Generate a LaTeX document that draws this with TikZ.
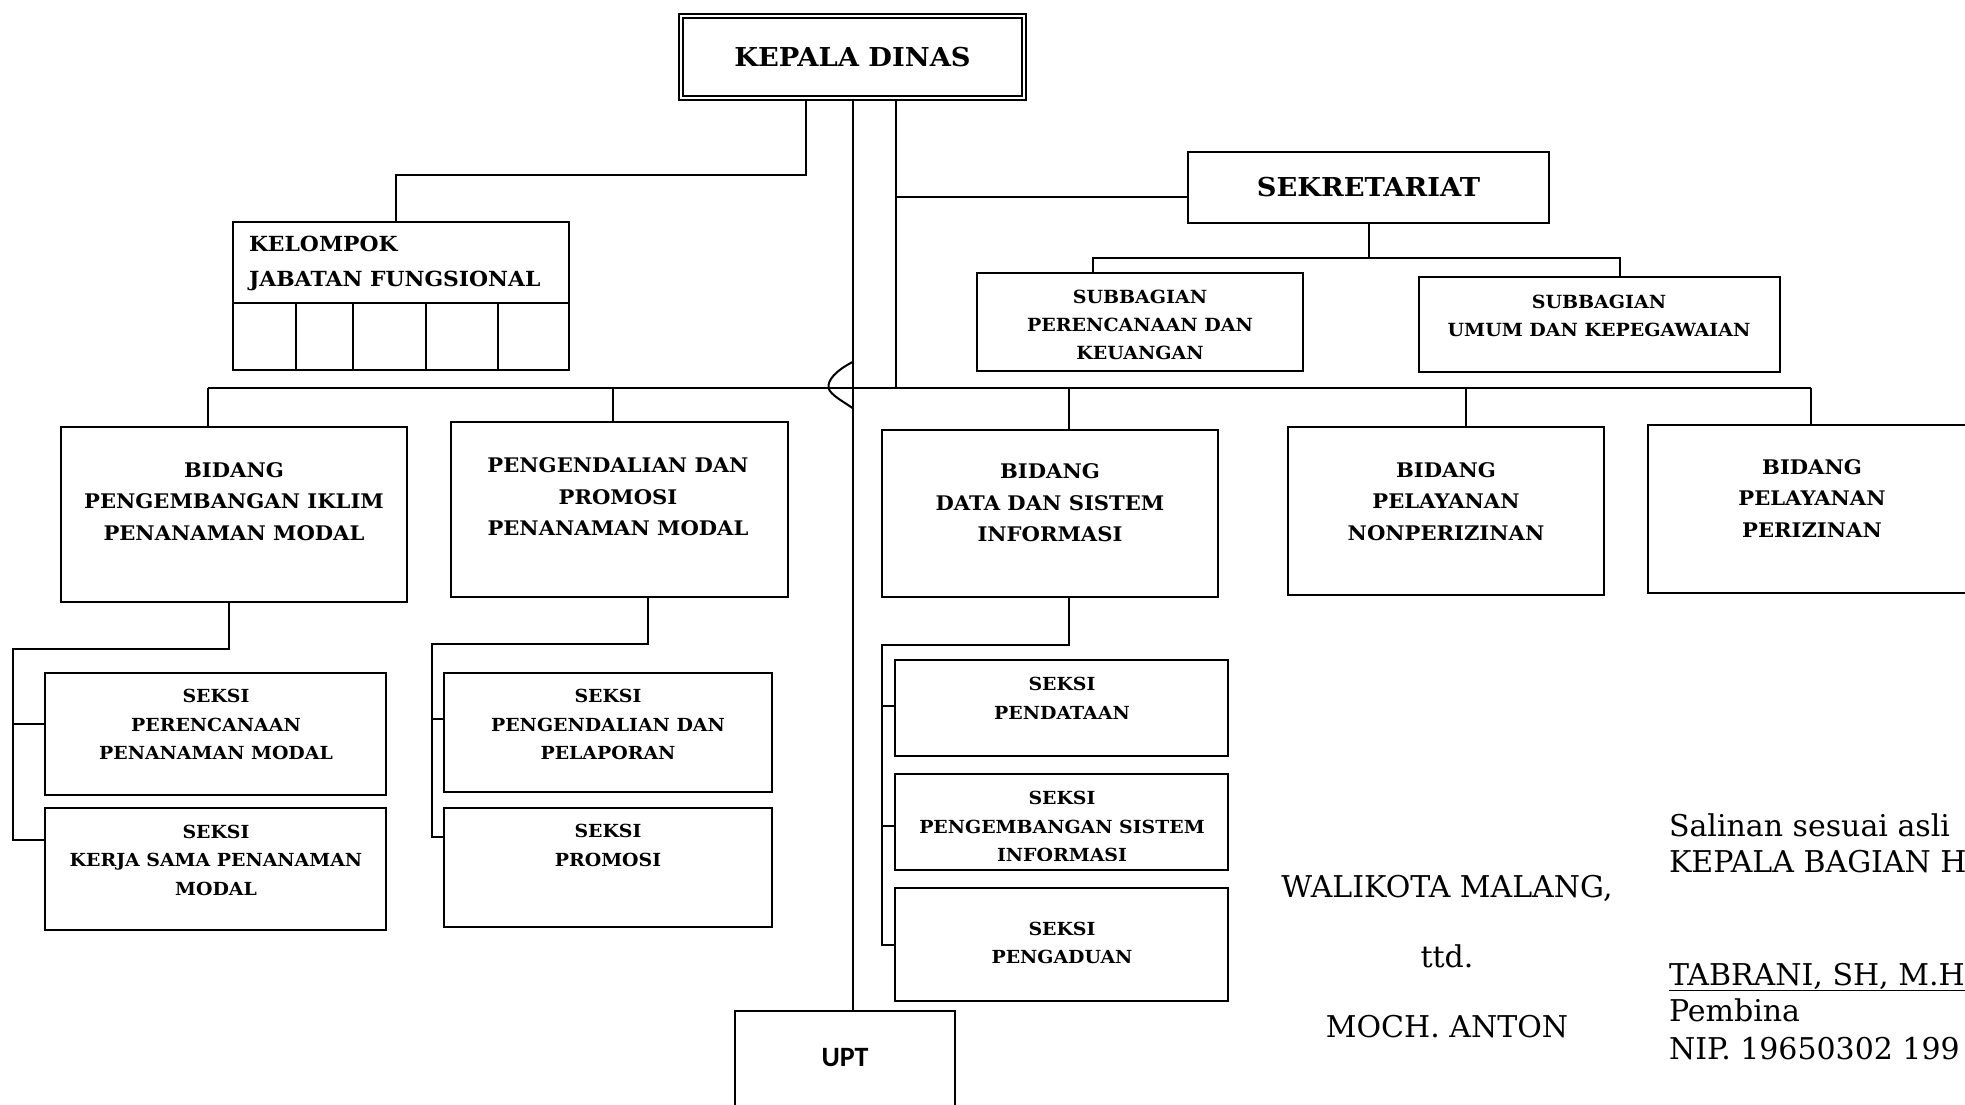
\documentclass[tikz,border=0pt]{standalone}
\usepackage{fontspec}
\setmainfont{DejaVu Serif}
\newfontfamily\boxfont{DejaVu Serif}[FakeStretch=1.05]
\newfontfamily\uptfont{Carlito}
\usetikzlibrary{calc}
\usetikzlibrary{positioning}

\begin{document}
\begin{tikzpicture}[x=1pt,y=-1pt,line width=2pt,inner sep=0pt]
 \tikzstyle{box}=[draw, rectangle, line width=2.1pt]
 \tikzstyle{ttl}=[align=center, font=\boxfont\bfseries\fontsize{26}{30}\selectfont]
 \tikzstyle{kjftxt}=[align=left, anchor=west, font=\boxfont\bfseries\fontsize{20.8}{35}\selectfont]
 \tikzstyle{subtxt}=[align=center, font=\boxfont\bfseries\fontsize{18.1}{28}\selectfont]
 \tikzstyle{bidtxt}=[align=center, font=\boxfont\bfseries\fontsize{20.1}{31.5}\selectfont]
 \tikzstyle{seksitxt}=[align=center, font=\boxfont\bfseries\fontsize{18}{28.5}\selectfont]
 \tikzstyle{sig}=[anchor=base, font=\fontsize{30}{36}\selectfont]
 \tikzstyle{sigl}=[anchor=base west, font=\fontsize{30}{36}\selectfont]

 \useasboundingbox (0,0) rectangle (1965,1104);
 \clip (0,0) rectangle (1965,1104);

 % kepala dinas dan sekretariat
 \node[box, double, double distance=2.5pt, line width=2pt, minimum width=343pt, minimum height=82pt] (kd) at (852.5,57) {};
 \node[ttl] (kdt) at (kd) {KEPALA DINAS};
 \node[box, minimum width=336pt, minimum height=148pt] (kjf) at (401,296) {};
 \node[kjftxt] (kjft) at (248,263.5) {KELOMPOK\\JABATAN FUNGSIONAL};
 \draw[line width=1.6pt] ([yshift=-7pt]kjf.west) -- ([yshift=-7pt]kjf.east);
 \foreach \dx in {-105,-48,25,97}
  \draw[line width=1.6pt] ([xshift=\dx pt]kjf.south) -- ++(0,-67);
 \node[box, minimum width=361pt, minimum height=71pt] (sek) at (1368.5,187.5) {};
 \node[ttl] (sekt) at (sek) {SEKRETARIAT};
 \node[box, minimum width=326pt, minimum height=98pt] (sbpk) at (1140,322) {};
 \node[subtxt] (sbpkt) at (1140,325) {SUBBAGIAN\\PERENCANAAN DAN\\KEUANGAN};
 \node[box, minimum width=361pt, minimum height=95pt] (sbuk) at (1599.5,324.5) {};
 \node[subtxt] (sbukt) at (1599,315.5) {SUBBAGIAN\\UMUM DAN KEPEGAWAIAN};

 % bidang
 \node[box, minimum width=346pt, minimum height=175pt] (bpipm) at (234,514.5) {};
 \node[bidtxt] (bpipmt) at (234,501.5) {BIDANG\\PENGEMBANGAN IKLIM\\PENANAMAN MODAL};
 \node[box, minimum width=337pt, minimum height=175pt] (pppm) at (619.5,509.5) {};
 \node[bidtxt] (pppmt) at (618,497) {PENGENDALIAN DAN\\PROMOSI\\PENANAMAN MODAL};
 \node[box, minimum width=336pt, minimum height=167pt] (bdsi) at (1050,513.5) {};
 \node[bidtxt] (bdsit) at (1050,503) {BIDANG\\DATA DAN SISTEM\\INFORMASI};
 \node[box, minimum width=316pt, minimum height=168pt] (bnp) at (1446,511) {};
 \node[bidtxt] (bnpt) at (1446,501.5) {BIDANG\\PELAYANAN\\NONPERIZINAN};
 \node[box, minimum width=328pt, minimum height=168pt] (bpz) at (1812,509) {};
 \node[bidtxt] (bpzt) at (1812,498.5) {BIDANG\\PELAYANAN\\PERIZINAN};

 % seksi
 \node[box, minimum width=341pt, minimum height=122pt] (spm) at (215.5,734) {};
 \node[seksitxt] (spmt) at (216,724.5) {SEKSI\\PERENCANAAN\\PENANAMAN MODAL};
 \node[box, minimum width=341pt, minimum height=122pt] (skm) at (215.5,869) {};
 \node[seksitxt] (skmt) at (216,860) {SEKSI\\KERJA SAMA PENANAMAN\\MODAL};
 \node[box, minimum width=328pt, minimum height=119pt] (spp) at (608,732.5) {};
 \node[seksitxt] (sppt) at (608,724.5) {SEKSI\\PENGENDALIAN DAN\\PELAPORAN};
 \node[box, minimum width=328pt, minimum height=119pt] (spro) at (608,867.5) {};
 \node[seksitxt] (sprot) at (608,845.5) {SEKSI\\PROMOSI};
 \node[box, minimum width=333pt, minimum height=96pt] (spd) at (1061.5,708) {};
 \node[seksitxt] (spdt) at (1062,698.5) {SEKSI\\PENDATAAN};
 \node[box, minimum width=333pt, minimum height=96pt] (spsi) at (1061.5,822) {};
 \begin{scope}
  \clip (895,774) rectangle (1228,860);
  \node[seksitxt] (spsit) at (1062,826.5) {SEKSI\\PENGEMBANGAN SISTEM\\INFORMASI};
 \end{scope}
 \node[box, minimum width=333pt, minimum height=113pt] (spg) at (1061.5,944.5) {};
 \node[seksitxt] (spgt) at (1062,943) {SEKSI\\PENGADUAN};
 \node[box, minimum width=220pt, minimum height=130pt] (upt) at (845,1076) {};
 \node[font=\uptfont\bfseries\fontsize{28}{32}\selectfont] (uptt) at (845,1058) {UPT};

 % garis
 \draw ([xshift=-46.5pt]kd.south) -- ++(0,76) -| ([xshift=-5pt]kjf.north);
 \draw (kd.south) -- (kd.south |- upt.north);
 \coordinate (kdr) at ([xshift=43pt]kd.south);
 \coordinate (busl) at (208,388);
 \coordinate (busr) at (1811,388);
 \draw (kdr) -- (kdr |- busl);
 \draw ([yshift=-9pt]sek.west) -- ([yshift=-9pt]sek.west -| kdr);
 \draw (sek.south) -- ++(0,34) coordinate (sekj);
 \draw ([xshift=-47pt]sbpk.north) |- (sekj) -| ([xshift=20.5pt]sbuk.north);
 \draw (busl) -- (busr);
 \foreach \n/\dx in {bpipm/-26,pppm/-6.5,bdsi/19,bnp/20,bpz/-1}
  \draw ([xshift=\dx pt]\n.north) -- ([xshift=\dx pt]\n.north |- busl);
 \coordinate (hop) at (kd.south |- busl);
 \draw ($(hop)+(0,-26)$) .. controls ($(hop)+(-17,-17)$) and ($(hop)+(-25,-8)$) .. ($(hop)+(-24,0)$)
  .. controls ($(hop)+(-22,7)$) and ($(hop)+(-10,13)$) .. ($(hop)+(0,20)$);
 \draw ([xshift=-5pt]bpipm.south) -- ++(0,46) -- ++(-216,0) |- ([yshift=29pt]skm.west);
 \draw ([yshift=10pt]spm.west) -- ++(-32,0);
 \draw ([xshift=28.5pt]pppm.south) -- ++(0,46) -- ++(-216,0) |- ([yshift=30.5pt]spro.west);
 \draw ([yshift=13.5pt]spp.west) -- ++(-12,0);
 \draw ([xshift=19pt]bdsi.south) -- ++(0,47) -- ++(-187,0) |- (spg.west);
 \draw ([yshift=2pt]spd.west) -- ++(-13,0);
 \draw ([yshift=-4pt]spsi.west) -- ++(-13,0);

 % tanda tangan
 \node[sig] (wali) at (1447,897) {WALIKOTA MALANG,};
 \node[sig] (ttd) at (1447,967) {ttd.};
 \node[sig] (anton) at (1447,1037) {MOCH. ANTON};
 \node[sigl] (salin) at (1668,836) {Salinan sesuai asli};
 \node[sigl] (kabag) at (1668,872) {KEPALA BAGIAN H};
 \node[sigl] (tabrani) at (1668,985) {\underline{TABRANI, SH, M.H}};
 \node[sigl] (pembina) at (1668,1021) {Pembina};
 \node[sigl] (nip) at (1668,1059) {NIP. 19650302 199};
\end{tikzpicture}
\end{document}
